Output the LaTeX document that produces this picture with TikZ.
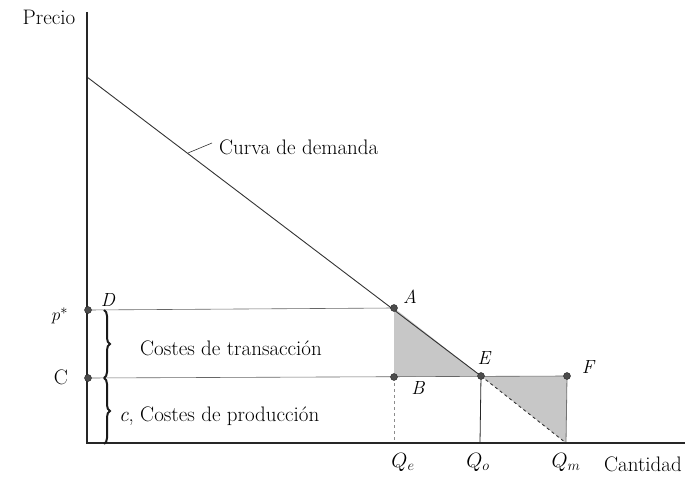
\documentclass[tikz,border=0pt]{standalone}
\usetikzlibrary{decorations.pathreplacing}
\begin{document}
\begin{tikzpicture}[x=1pt,y=-1pt,
  axis/.style={line width=1.1pt,draw=black!85},
  guide/.style={line width=0.6pt,draw=black!60},
  demand/.style={line width=0.9pt,draw=black!80},
  dot/.style={circle,fill=black!70,draw=black!85,line width=0.4pt,inner sep=0pt,minimum size=7pt},
  lbl/.style={font=\fontsize{21}{24}\selectfont},
  pt/.style={font=\fontsize{19}{22}\selectfont\itshape},
  qlbl/.style={font=\fontsize{21}{24}\selectfont},
  shade/.style={fill=black!22,draw=none},
  bracestyle/.style={decorate,decoration={brace,amplitude=6pt},line width=2pt,draw=black!90}]
\useasboundingbox (0,0) rectangle (688,481);
% coordinates
\coordinate (O) at (87,443);
\coordinate (Ytop) at (87,12);
\coordinate (Xend) at (685,443);
\coordinate (P0) at (87,77);
\coordinate (Qe) at (394,443);
\coordinate (Qo) at (480,443);
\coordinate (Qm) at (566,443);
\coordinate (Ad) at (394,308);
\coordinate (Bd) at (394,377);
\coordinate (Ed) at (481,376);
\coordinate (Fd) at (567,376);
\coordinate (Dd) at (88,310);
\coordinate (Cd) at (88,378);
\coordinate (Lead1) at (188,153);
\coordinate (Lead2) at (212,143);
% shaded triangles
\fill[shade] (Ad) -- (Bd) -- (Ed) -- cycle;
\fill[shade] (Ed) -- (Fd) -- (Qm) -- cycle;
% guides
\draw[guide] (Dd) -- (Ad);
\draw[guide] (Cd) -- (Fd);
\draw[guide,dashed,draw=black!45] (Bd) -- (Qe);
\draw[line width=0.8pt,draw=black!85] (Ed) -- (Qo);
\draw[line width=0.8pt,draw=black!55] (Fd) -- (Qm);
% demand
\draw[demand] (P0) -- (Ed);
\draw[demand,dashed] (Ed) -- (Qm);
\draw[line width=0.6pt,draw=black!80] (Lead1) -- (Lead2);
% axes
\draw[axis] (Ytop) -- (O) -- (Xend);
% braces
\draw[bracestyle] (104,310) -- (104,378);
\draw[bracestyle] (104,378) -- (104,444);
% dots
\node[dot] (A) at (Ad) {};
\node[dot] (B) at (Bd) {};
\node[dot] (E) at (Ed) {};
\node[dot] (F) at (Fd) {};
\node[dot] (D) at (Dd) {};
\node[dot] (C) at (Cd) {};
% labels
\node[lbl] (precio) at (49,17) {Precio};
\node[lbl,anchor=west,inner sep=0pt] (curva) at (219,147) {Curva de demanda};
\node[pt] (lA) at (410,297) {A};
\node[pt] (lB) at (418,388) {B};
\node[pt] (lE) at (484,358) {E};
\node[pt] (lF) at (588,367) {F};
\node[pt] (lD) at (108,300) {D};
\node[lbl] (lC) at (61,377) {C};
\node[pt] (lp) at (60,316) {$p^{*}$};
\node[lbl] (trans) at (231,348) {Costes de transacción};
\node[lbl,anchor=west,inner sep=0pt] (prod) at (119,416) {\textit{c},\ Costes de producción};
\node[qlbl] (lQe) at (403,462) {$Q_e$};
\node[qlbl] (lQo) at (478,462) {$Q_o$};
\node[qlbl] (lQm) at (566,462) {$Q_m$};
\node[lbl] (cant) at (643,464) {Cantidad};
\end{tikzpicture}
\end{document}
